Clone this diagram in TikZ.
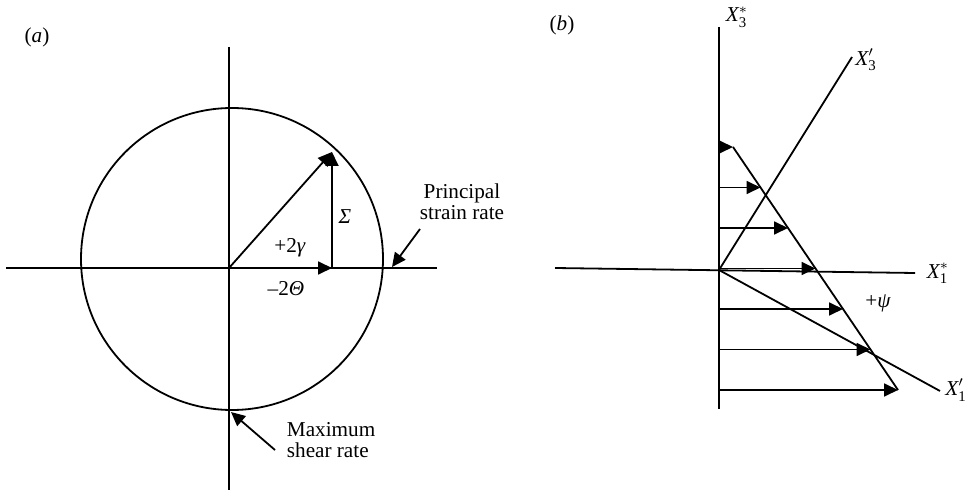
\documentclass[tikz,border=0pt]{standalone}
\usepackage{amsmath}
\usepackage{fontspec}
\setmainfont{Liberation Serif}
\usetikzlibrary{arrows.meta}
\begin{document}
\begin{tikzpicture}[x=0.5pt,y=0.5pt,line width=0.9pt,font=\fontsize{10.6}{10.6}\selectfont,vec/.style={-{Triangle[length=7pt,width=6.5pt]}},lbl/.style={inner sep=1pt}]
\useasboundingbox (0,0) rectangle (969,493);
% (a) circle of strain rate
\node[lbl] (tagA) at (37,456) {(\textit{a})};
\coordinate (O) at (229,225);\coordinate (aN) at (229,446);\coordinate (aS) at (229,3);\coordinate (aW) at (6,225);\coordinate (aE) at (437,225);
\draw (aN) -- (aS);\draw (aW) -- (aE);
\draw (232,234) circle (151);
\coordinate (T) at (332,341);\coordinate (H) at (332,225);
\draw[vec] (O) -- (T);\draw[vec] (H) -- (T);\draw[vec] (O) -- (H);
\node[lbl] (sig) at (345,276) {\textit{Σ}};
\node[lbl] (gam) at (290,245) {+2\textit{γ}};
\node[lbl] (the) at (286,204) {–2\textit{Θ}};
\node[lbl,align=center] (prin) at (462,291) {Principal\\strain rate};
\coordinate (pTail) at (420,264);\coordinate (pTip) at (392,226);\draw[vec] (pTail) -- (pTip);
\node[lbl,align=left,anchor=west] (maxs) at (284,53) {Maximum\\shear rate};
\coordinate (mTail) at (275,43);\coordinate (mTip) at (231,81);\draw[vec] (mTail) -- (mTip);
% (b) rotated axes and shear profile
\node[lbl] (tagB) at (562,468) {(\textit{b})};
\coordinate (B) at (719,223);\coordinate (bN) at (719,466);\coordinate (bS) at (719,84);\coordinate (bW) at (555,225);\coordinate (bE) at (915,220);
\draw (bN) -- (bS);\draw (bW) -- (bE);
\coordinate (x3p) at (852,436);\coordinate (x1p) at (940,102);
\draw (B) -- (x3p);\draw (B) -- (x1p);
\node[lbl] (lX3s) at (737,476) {$\textit{X}^{*}_{\text{3}}$};
\node[lbl] (lX3p) at (866,433) {$\textit{X}'_{\text{3}}$};
\node[lbl] (lX1s) at (938,220) {$\textit{X}^{*}_{\text{1}}$};
\node[lbl] (lX1p) at (956,103) {$\textit{X}'_{\text{1}}$};
\node[lbl] (psi) at (878,190) {+\textit{ψ}};
\coordinate (pTop) at (733,346);\coordinate (pBot) at (898,103);\draw (pTop) -- (pBot);
\foreach \i in {0,...,6}{\coordinate (s\i) at (719,346-40.5*\i);\coordinate (t\i) at (733+27.5*\i,346-40.5*\i);\draw[vec] (s\i) -- (t\i);}
\end{tikzpicture}
\end{document}
